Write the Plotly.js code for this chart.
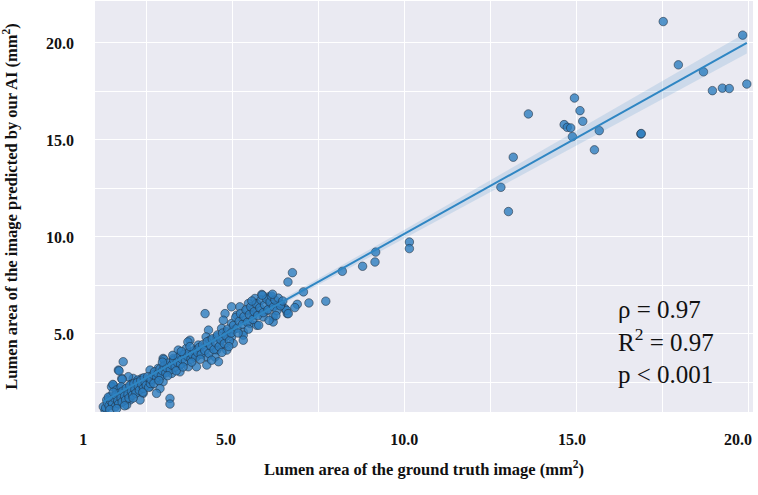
<!DOCTYPE html>
<html>
<head>
<meta charset="utf-8">
<script src="https://cdn.plot.ly/plotly-3.0.1.min.js"></script>
<style>
  body { margin: 0; background: #fff; }
  #chart { width: 758px; height: 495px; }
</style>
</head>
<body>
<div id="chart"></div>
<script>
// lumen area, ground truth (x) vs AI prediction (y), mm^2
var gtArea = [
  13.15, 13.59, 14.63, 14.72, 14.82, 14.87, 14.93, 15.09, 15.17, 15.51, 15.65, 16.86, 16.87, 17.51, 17.95, 18.68, 18.94, 19.23, 19.43, 19.82, 19.94,
  12.79, 13.01, 10.13, 10.13, 9.15, 9.13, 8.77, 8.18, 7.70, 7.21, 7.05, 6.73, 6.60, 6.87, 6.80, 6.51, 6.58, 6.40,
  5.84, 5.64, 6.03, 5.45, 5.69, 6.08, 6.27, 6.37, 5.20, 4.96, 6.56, 6.61, 5.98, 5.79, 5.55, 5.40, 4.77, 5.11, 5.59, 5.88, 6.17, 6.17,
  5.30, 4.72, 4.96, 5.50, 5.69, 4.19, 4.67, 4.82, 5.01, 5.30, 4.29, 4.22, 4.33, 4.53, 4.72, 4.96, 5.30, 5.30, 5.01, 4.62, 4.82,
  3.75, 3.99, 3.94, 4.14, 4.38, 4.53, 4.48, 4.24, 4.58, 4.24, 3.65, 3.46, 3.65, 3.85, 3.99, 3.41, 3.27, 2.97, 3.02, 3.17, 3.46,
  3.70, 3.94, 2.83, 2.59, 2.73, 2.97, 3.22, 3.46, 2.35, 2.49, 2.20, 2.78, 2.97, 2.59, 2.88, 2.78, 2.10, 1.96, 1.81, 1.67, 1.77,
  1.52, 1.47, 1.72, 2.01, 1.91, 2.20, 2.39, 1.62, 1.43, 1.33, 1.72, 2.01, 2.30, 1.91, 1.62, 1.47, 1.28, 1.23, 3.17, 3.17,
  1.69, 1.78, 1.51, 1.61, 1.75, 2.04, 2.24, 2.99, 3.69,
  1.30, 1.35, 1.40, 1.45, 1.50, 1.55, 1.58, 1.60, 1.65, 1.68, 1.70, 1.75, 1.78, 1.80, 1.85, 1.88, 1.90, 1.95, 1.98, 2.00, 2.05,
  2.08, 2.12, 2.15, 2.18, 2.22, 2.25, 2.28, 2.32, 2.35, 2.40, 2.42, 2.45, 2.48, 1.38, 1.52, 1.42, 1.62, 1.85, 2.10, 2.38, 2.55, 2.60, 2.52,
  2.62, 2.68, 2.72, 2.78, 2.82, 2.88, 2.92, 2.95, 3.00, 3.05, 3.08, 3.12, 3.18, 3.22, 3.28, 3.32, 3.38, 3.42, 3.48, 3.52, 3.58,
  3.62, 3.68, 3.72, 3.78, 3.82, 3.88, 3.92, 3.97, 2.70, 2.85, 3.10, 3.35, 3.55, 3.80, 3.25, 3.50, 2.95, 3.75,
  4.02, 4.08, 4.12, 4.18, 4.25, 4.30, 4.35, 4.40, 4.45, 4.50, 4.55, 4.60, 4.65, 4.70, 4.75, 4.80, 4.85, 4.90, 4.95, 4.05, 4.38, 4.68, 4.88,
  5.02, 5.08, 5.12, 5.18, 5.22, 5.28, 5.32, 5.38, 5.42, 5.48, 5.52, 5.58, 5.62, 5.68, 5.72, 5.78, 5.82, 5.88, 5.92, 5.98, 6.02,
  6.08, 6.12, 6.18, 6.22, 6.28, 6.32, 6.38, 6.45, 5.15, 5.45, 5.75, 6.05, 5.55, 5.85, 6.15, 6.25
];
var aiArea = [
  14.11, 16.34, 15.79, 15.65, 15.62, 15.17, 17.16, 16.51, 15.96, 14.49, 15.48, 15.31, 15.33, 21.10, 18.87, 18.51, 17.54, 17.67, 17.65, 20.40, 17.88,
  12.56, 11.31, 9.74, 9.40, 9.22, 8.71, 8.49, 8.23, 6.69, 6.60, 7.17, 8.16, 7.68, 6.53, 6.36, 6.31, 6.05, 6.53,
  7.04, 6.83, 6.91, 6.57, 6.57, 6.57, 6.48, 6.57, 6.40, 6.40, 6.22, 6.05, 6.20, 6.20, 6.20, 6.20, 6.05, 5.97, 5.97, 5.88, 5.88, 5.62,
  5.71, 5.71, 5.54, 5.54, 5.45, 6.05, 5.28, 5.11, 5.20, 5.11, 5.20, 4.85, 4.68, 4.85, 4.77, 4.85, 4.94, 4.68, 4.51, 4.43, 4.17,
  4.68, 4.43, 4.17, 4.26, 4.26, 4.17, 3.82, 3.82, 3.57, 3.40, 4.26, 3.91, 3.82, 3.82, 3.91, 4.17, 3.74, 3.74, 3.48, 3.31, 3.40,
  3.31, 3.31, 3.23, 3.14, 2.88, 2.97, 2.97, 3.05, 2.71, 2.63, 2.54, 2.63, 2.54, 2.28, 2.19, 1.94, 2.71, 2.80, 3.57, 3.14, 2.71,
  2.37, 2.28, 2.19, 2.28, 2.02, 2.02, 1.94, 1.94, 1.77, 1.60, 1.68, 1.60, 1.60, 1.34, 1.42, 1.34, 1.08, 1.25, 1.68, 1.39,
  3.10, 2.66, 2.40, 2.11, 2.28, 2.40, 2.63, 3.69, 4.59,
  1.20, 1.45, 1.30, 1.55, 1.40, 1.70, 1.25, 1.85, 1.55, 1.40, 1.95, 1.70, 1.50, 2.05, 1.80, 1.60, 2.20, 1.90, 1.70, 2.35, 2.05,
  1.85, 2.45, 2.15, 1.95, 2.50, 2.30, 2.10, 2.60, 2.40, 2.20, 2.75, 2.50, 2.35, 1.75, 2.00, 1.10, 1.15, 1.30, 1.70, 2.00, 2.25, 2.45, 2.80,
  2.65, 2.90, 3.05, 2.75, 2.95, 3.20, 2.85, 3.10, 3.35, 3.00, 3.25, 3.50, 3.15, 3.40, 3.65, 3.30, 3.55, 3.80, 3.45, 3.70, 3.95,
  3.60, 3.85, 4.05, 3.70, 3.95, 4.15, 3.80, 4.05, 2.45, 2.60, 2.85, 3.10, 3.30, 3.55, 3.90, 4.10, 3.55, 4.35,
  4.30, 3.95, 4.45, 4.15, 4.60, 4.00, 4.40, 4.75, 4.20, 4.55, 4.95, 4.35, 4.70, 5.05, 4.50, 4.90, 5.25, 4.65, 5.05, 3.70, 3.65, 4.05, 4.35,
  5.45, 5.85, 5.30, 5.65, 6.05, 5.50, 5.90, 6.25, 5.60, 6.00, 6.40, 5.75, 6.15, 6.55, 5.95, 6.35, 6.75, 6.10, 6.50, 6.80, 6.25,
  6.65, 6.95, 6.40, 6.75, 6.20, 6.85, 6.45, 6.70, 5.05, 5.25, 5.45, 5.70, 6.70, 7.00, 7.05, 5.95
];

// regression line end points and 95% band
var fitX = [1.23, 19.94];
var fitY = [1.51, 20.0];
var bandX = [1.23, 3, 5, 7, 10, 13, 16, 18, 19.94];
var bandLo = [1.29, 3.10, 5.11, 7.07, 9.95, 12.81, 15.68, 17.59, 19.45];
var bandHi = [1.73, 3.40, 5.35, 7.35, 10.39, 13.45, 16.52, 18.55, 20.55];

var gridVals = [2.5, 5, 7.5, 10, 12.5, 15, 17.5, 20];
var xTickVals = [1.0, 5.15, 10.33, 15.21, 20.03];
var xTickText = ["1", "5.0", "10.0", "15.0", "20.0"];
var yTickVals = [5, 10, 15, 20];
var yTickText = ["5.0", "10.0", "15.0", "20.0"];
var yMinorVals = [2.5, 7.5, 12.5, 17.5];

var serif = "Liberation Serif, Times New Roman, serif";
var boldFont = { family: serif, size: 16, color: "#111", weight: "bold" };
var titleFont = { family: serif, size: 16.5, color: "#111", weight: "bold" };

Plotly.newPlot(
  "chart",
  [
    {
      x: gtArea,
      y: aiArea,
      mode: "markers",
      type: "scatter",
      marker: {
        size: 8.5,
        color: "rgba(45,125,190,0.8)",
        line: { color: "rgba(35,45,60,0.7)", width: 0.8 },
      },
      hoverinfo: "skip",
    },
    {
      x: bandX,
      y: bandLo,
      mode: "lines",
      line: { width: 0, color: "rgba(0,0,0,0)" },
      hoverinfo: "skip",
    },
    {
      x: bandX,
      y: bandHi,
      mode: "lines",
      fill: "tonexty",
      fillcolor: "rgba(50,130,195,0.16)",
      line: { width: 0, color: "rgba(0,0,0,0)" },
      hoverinfo: "skip",
    },
    {
      x: fitX,
      y: fitY,
      mode: "lines",
      line: { color: "#2f86c3", width: 2 },
      hoverinfo: "skip",
    },
    // empty trace so the label axis gets drawn
    { x: [], y: [], xaxis: "x2", yaxis: "y", mode: "markers", hoverinfo: "skip" },
  ],
  {
    width: 758,
    height: 495,
    showlegend: false,
    paper_bgcolor: "#ffffff",
    plot_bgcolor: "#eaeaf2",
    margin: { l: 95, r: 5, t: 1, b: 83 },
    xaxis: {
      range: [0.99, 20.12],
      tickmode: "array",
      tickvals: gridVals,
      showticklabels: false,
      ticks: "",
      showgrid: true,
      gridcolor: "#ffffff",
      gridwidth: 1,
      zeroline: false,
      showline: false,
    },
    xaxis2: {
      overlaying: "x",
      anchor: "y",
      side: "bottom",
      range: [0.99, 20.12],
      tickmode: "array",
      tickvals: xTickVals,
      ticktext: xTickText,
      ticks: "",
      ticklabelshift: -12,
      ticklabelstandoff: 16,
      tickfont: boldFont,
      showgrid: false,
      zeroline: false,
      showline: false,
      title: {
        text: "Lumen area of the ground truth image (mm<sup>2</sup>)",
        font: titleFont,
        standoff: 16,
      },
    },
    yaxis: {
      range: [0.98, 22.16],
      tickmode: "array",
      tickvals: yTickVals,
      ticktext: yTickText,
      ticks: "",
      ticklabelstandoff: 20,
      tickfont: boldFont,
      showgrid: true,
      gridcolor: "#ffffff",
      gridwidth: 1,
      minor: {
        tickmode: "array",
        tickvals: yMinorVals,
        ticks: "",
        showgrid: true,
        gridcolor: "#ffffff",
        gridwidth: 1,
      },
      zeroline: false,
      showline: false,
      title: {
        text: "Lumen area of the image predicted by our AI (mm<sup>2</sup>)",
        font: titleFont,
        standoff: 24,
      },
    },
    annotations: [
      {
        xref: "paper",
        yref: "paper",
        x: 0.792,
        y: 0.17,
        xanchor: "left",
        yanchor: "middle",
        align: "left",
        showarrow: false,
        text: "ρ = 0.97<br>R<sup>2</sup> = 0.97<br>p &lt; 0.001",
        font: { family: serif, size: 25, color: "#111" },
      },
    ],
  },
  { displayModeBar: false, staticPlot: true }
);
</script>
</body>
</html>
